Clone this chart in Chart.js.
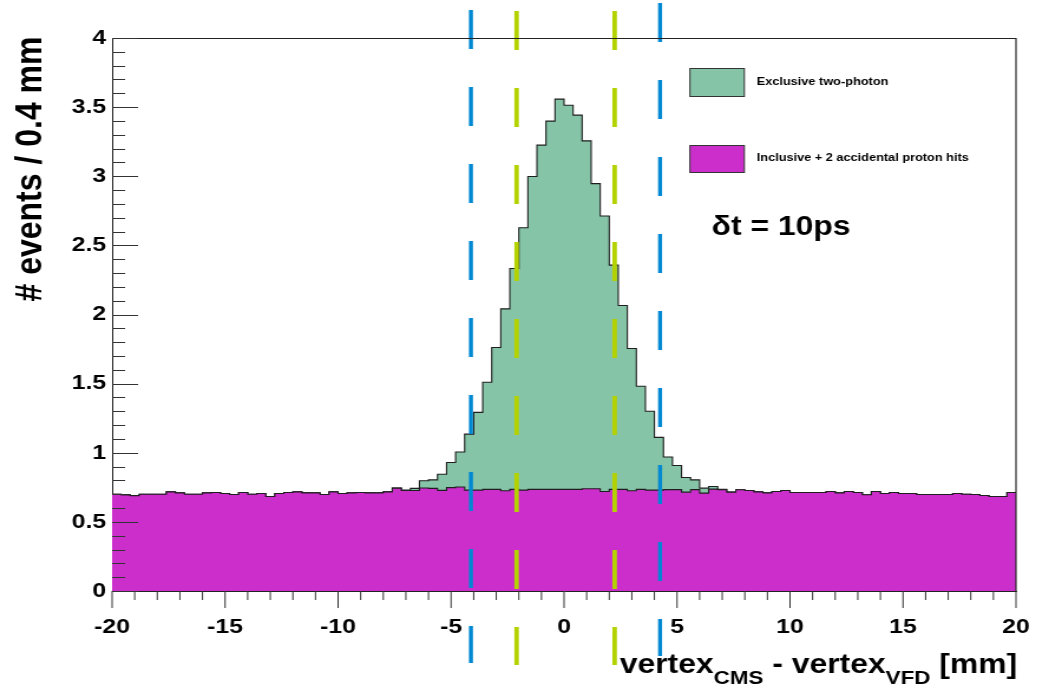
<!DOCTYPE html>
<html>
<head>
<meta charset="utf-8">
<title>vertex difference</title>
<script src="https://cdn.jsdelivr.net/npm/chart.js@4.4.1/dist/chart.umd.min.js"></script>
<style>
  html, body { margin: 0; padding: 0; background: #fff; overflow: hidden; }
  /* the canvas is drawn narrow and widened to the page, like the stretched ROOT canvas */
  #wrap { width: 889px; height: 692px; transform: scaleX(1.18); transform-origin: 0 0; }
  canvas { display: block; }
</style>
</head>
<body>
<div id="wrap"><canvas id="c" width="889" height="692"></canvas></div>
<script>
// ---- histogram contents: 100 bins of 0.4 mm from -20 to 20 mm ----
const binEdgesStart = -20;
const binWidth = 0.4;

// Inclusive + 2 accidental proton hits (events / 0.4 mm)
const inclusiveBg = [
  0.700, 0.695, 0.690, 0.700, 0.700, 0.700, 0.717, 0.710, 0.700, 0.700,
  0.710, 0.713, 0.705, 0.698, 0.713, 0.700, 0.705, 0.684, 0.705, 0.713,
  0.717, 0.710, 0.710, 0.698, 0.717, 0.705, 0.710, 0.713, 0.710, 0.710,
  0.717, 0.744, 0.727, 0.727, 0.745, 0.742, 0.728, 0.748, 0.752, 0.730,
  0.730, 0.735, 0.735, 0.725, 0.735, 0.730, 0.735, 0.735, 0.735, 0.735,
  0.735, 0.735, 0.740, 0.740, 0.720, 0.735, 0.735, 0.725, 0.735, 0.730,
  0.730, 0.733, 0.733, 0.715, 0.733, 0.708, 0.737, 0.732, 0.715, 0.732,
  0.727, 0.717, 0.710, 0.720, 0.727, 0.712, 0.712, 0.712, 0.712, 0.720,
  0.710, 0.720, 0.712, 0.696, 0.720, 0.705, 0.712, 0.705, 0.705, 0.698,
  0.698, 0.698, 0.698, 0.705, 0.700, 0.698, 0.691, 0.684, 0.684, 0.712
];

// Exclusive two-photon signal, stacked on top (events / 0.4 mm)
const exclusiveSignal = [
  0, 0, 0, 0, 0, 0, 0, 0, 0, 0,
  0, 0, 0, 0, 0, 0, 0, 0, 0, 0,
  0, 0, 0, 0, 0, 0, 0, 0, 0, 0,
  0, 0, 0.003, 0.015, 0.052, 0.062, 0.117, 0.182, 0.253, 0.405,
  0.562, 0.775, 1.026, 1.316, 1.598, 1.898, 2.263, 2.490, 2.664, 2.823,
  2.779, 2.707, 2.516, 2.207, 1.992, 1.622, 1.330, 1.029, 0.746, 0.570,
  0.381, 0.236, 0.175, 0.106, 0.071, 0.036, 0.019, 0.003, 0, 0,
  0, 0, 0, 0, 0, 0, 0, 0, 0, 0,
  0, 0, 0, 0, 0, 0, 0, 0, 0, 0,
  0, 0, 0, 0, 0, 0, 0, 0, 0, 0
];

// axis ticks
const xTickValues = [-20, -15, -10, -5, 0, 5, 10, 15, 20];
const xTickLabels = ['-20', '-15', '-10', '-5', '0', '5', '10', '15', '20'];
const yTickValues = [0, 0.5, 1, 1.5, 2, 2.5, 3, 3.5, 4];
const yTickLabels = ['0', '0.5', '1', '1.5', '2', '2.5', '3', '3.5', '4'];

// timing-window cut lines (mm)
const outerCuts = [-4.12, 4.25];
const innerCuts = [-2.1, 2.24];

const seriesNames = ['Inclusive + 2 accidental proton hits', 'Exclusive two-photon'];
const xTitle = ['vertex', 'CMS', ' - vertex', 'VFD', ' [mm]'];
const yTitle = '# events / 0.4 mm';
const resolutionNote = '\u03b4t = 10ps';

// ---- styling ----
const MAGENTA = 'rgb(204, 46, 204)';
const SEAGREEN = 'rgb(133, 196, 167)';
const CUT_BLUE = 'rgb(0, 136, 210)';
const CUT_LIME = 'rgb(180, 210, 0)';
const OUTLINE = '#1e1e1e';
const FONT = "'Liberation Sans', Arial, Helvetica, sans-serif";

// one point per bin at its low edge, plus the closing edge at +20 mm
function toSteps(values) {
  const pts = values.map((v, i) => ({ x: binEdgesStart + i * binWidth, y: v }));
  pts.push({ x: binEdgesStart + values.length * binWidth, y: values[values.length - 1] });
  return pts;
}

// ROOT-style frame, tick marks, titles, legend and cut lines
const decorations = {
  id: 'decorations',
  afterDraw(chart) {
    const { ctx, chartArea: a, scales: { x, y } } = chart;
    ctx.save();

    // cut lines (dashed, running past the frame)
    const drawCut = (val, color, width, y0, y1) => {
      const px = x.getPixelForValue(val);
      ctx.beginPath();
      ctx.setLineDash([39, 38]);
      ctx.strokeStyle = color;
      ctx.lineWidth = width;
      ctx.moveTo(px, y0);
      ctx.lineTo(px, y1);
      ctx.stroke();
    };
    drawCut(outerCuts[0], CUT_BLUE, 3.4, 10, 663);
    drawCut(innerCuts[0], CUT_LIME, 3.8, 11, 665);
    drawCut(innerCuts[1], CUT_LIME, 3.8, 11, 665);
    drawCut(outerCuts[1], CUT_BLUE, 3.4, 3, 656);
    ctx.setLineDash([]);

    // top and right frame
    ctx.strokeStyle = '#222';
    ctx.lineWidth = 1.2;
    ctx.beginPath();
    ctx.moveTo(a.left, a.top + 0.5);
    ctx.lineTo(a.right, a.top + 0.5);
    ctx.lineTo(a.right, a.bottom);
    ctx.stroke();

    // y ticks, pointing into the frame
    ctx.lineWidth = 1;
    ctx.strokeStyle = '#333';
    for (let k = 0; k <= 40; k++) {
      const py = Math.round(y.getPixelForValue(k / 10)) + 0.5;
      const len = (k % 5 === 0) ? 22 : 11;
      ctx.beginPath();
      ctx.moveTo(a.left, py);
      ctx.lineTo(a.left + len, py);
      ctx.stroke();
    }
    // x ticks, below the axis
    for (let k = -20; k <= 20; k++) {
      const px = x.getPixelForValue(k);
      const len = (k % 5 === 0) ? 17 : 9;
      ctx.beginPath();
      ctx.moveTo(px, a.bottom);
      ctx.lineTo(px, a.bottom + len);
      ctx.stroke();
    }

    ctx.fillStyle = '#000';
    // y title
    ctx.save();
    ctx.translate(26.3, 169);
    ctx.rotate(-Math.PI / 2);
    ctx.font = `bold 32px ${FONT}`;
    ctx.textAlign = 'center';
    ctx.textBaseline = 'middle';
    ctx.fillText(yTitle, 0, 0);
    ctx.restore();

    // x title with subscripts, right-aligned to the frame
    const mainFont = `bold 27px ${FONT}`;
    const subFont = `bold 19px ${FONT}`;
    const parts = xTitle.map((t, i) => ({ t, sub: i % 2 === 1 }));
    let total = 0;
    parts.forEach(p => { ctx.font = p.sub ? subFont : mainFont; p.w = ctx.measureText(p.t).width; total += p.w; });
    let cx = a.right + 1 - total;
    ctx.textAlign = 'left';
    ctx.textBaseline = 'alphabetic';
    parts.forEach(p => {
      ctx.font = p.sub ? subFont : mainFont;
      ctx.fillText(p.t, cx, p.sub ? 684 : 673);
      cx += p.w;
    });

    // legend
    const legendRows = [
      { ds: chart.data.datasets[1], y: 68, h: 28 },
      { ds: chart.data.datasets[0], y: 145, h: 27 }
    ];
    legendRows.forEach(r => {
      ctx.fillStyle = r.ds.backgroundColor;
      ctx.fillRect(584.7, r.y, 46.1, r.h);
      ctx.strokeStyle = '#333';
      ctx.lineWidth = 1;
      ctx.strokeRect(584.7, r.y + 0.5, 46.1, r.h);
      ctx.fillStyle = '#000';
      ctx.font = `bold 10.8px ${FONT}`;
      ctx.textBaseline = 'middle';
      ctx.fillText(r.ds.label, 641.3, r.y + r.h / 2);
    });

    // resolution note
    ctx.font = `bold 27px ${FONT}`;
    ctx.textBaseline = 'alphabetic';
    ctx.fillText(resolutionNote, 603.1, 235);

    ctx.restore();
  }
};

// fixed axis boxes so the frame sits exactly where the layout says
const fixX = s => { s.height = 101; s.paddingLeft = 0; s.paddingRight = 0; };
const fixY = s => { s.width = 95; s.paddingTop = 0; s.paddingBottom = 0; };

new Chart(document.getElementById('c'), {
  type: 'line',
  data: {
    datasets: [
      {
        label: seriesNames[0],
        data: toSteps(inclusiveBg),
        stepped: 'before',
        fill: 'origin',
        backgroundColor: MAGENTA,
        borderColor: OUTLINE,
        borderWidth: 1.1,
        pointRadius: 0
      },
      {
        label: seriesNames[1],
        data: toSteps(exclusiveSignal),
        stepped: 'before',
        fill: '-1',
        backgroundColor: SEAGREEN,
        borderColor: OUTLINE,
        borderWidth: 1.1,
        pointRadius: 0
      }
    ]
  },
  options: {
    responsive: false,
    animation: false,
    devicePixelRatio: 1,
    layout: { padding: { top: 38, right: 28, left: 0, bottom: 0 } },
    plugins: { legend: { display: false }, tooltip: { enabled: false } },
    scales: {
      x: {
        type: 'linear',
        min: -20,
        max: 20,
        afterFit: fixX,
        afterBuildTicks: s => { s.ticks = xTickValues.map(v => ({ value: v })); },
        grid: { display: false, drawTicks: false },
        border: { display: true, color: '#222', width: 1 },
        ticks: {
          padding: 24,
          autoSkip: false,
          maxRotation: 0,
          color: '#000',
          font: { family: FONT, size: 21, weight: 'bold' },
          callback: (v, i) => xTickLabels[i]
        }
      },
      y: {
        stacked: true,
        min: 0,
        max: 4,
        afterFit: fixY,
        afterBuildTicks: s => { s.ticks = yTickValues.map(v => ({ value: v })); },
        grid: { display: false, drawTicks: false },
        border: { display: true, color: '#222', width: 1 },
        ticks: {
          padding: 5,
          autoSkip: false,
          color: '#000',
          font: { family: FONT, size: 21, weight: 'bold' },
          callback: (v, i) => yTickLabels[i]
        }
      }
    }
  },
  plugins: [decorations]
});
</script>
</body>
</html>
